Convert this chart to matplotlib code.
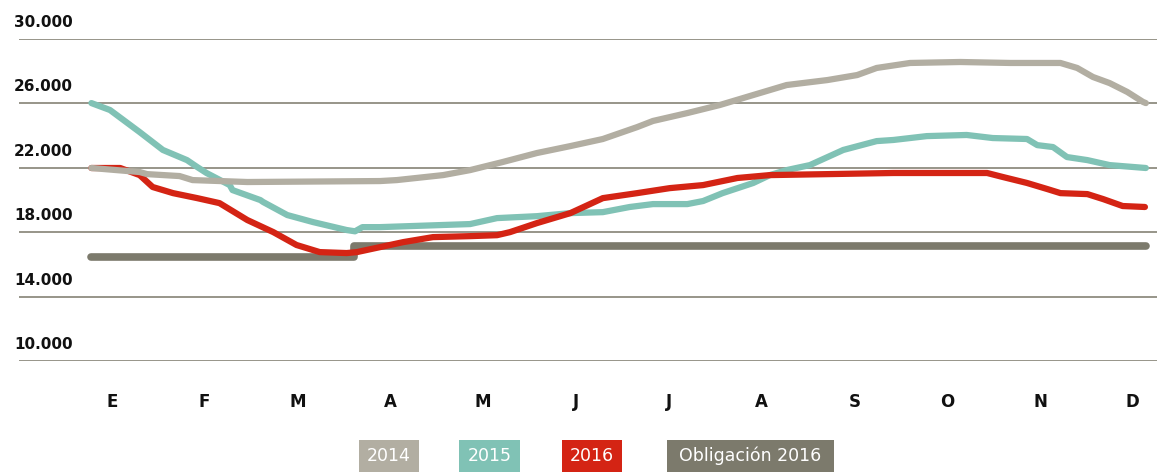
import matplotlib
matplotlib.use('Agg')
import matplotlib.pyplot as plt
from matplotlib.patches import Rectangle

# x in months (0 = enero, 11 = diciembre), y in values
x_2014 = [-0.22, 0.30, 0.38, 0.73, 0.87, 1.46, 2.89, 3.07, 3.57, 3.86, 4.21, 4.58, 4.94, 5.29,
          5.66, 5.83, 6.20, 6.55, 7.09, 7.27, 7.71, 8.03, 8.24, 8.60, 9.14, 9.68, 10.22, 10.40,
          10.57, 10.75, 10.94, 11.11, 11.14]
y_2014 = [21980, 21730, 21600, 21480, 21230, 21110, 21170, 21230, 21540, 21850, 22350, 22910, 23340, 23780,
          24520, 24900, 25390, 25890, 26820, 27130, 27440, 27750, 28190, 28500, 28560, 28500, 28500, 28190,
          27630, 27250, 26700, 26080, 26010]

x_2015 = [-0.22, -0.02, 0.30, 0.55, 0.81, 0.92, 1.02, 1.27, 1.30, 1.60, 1.63, 1.89, 2.17, 2.53, 2.62,
          2.70, 2.89, 3.86, 4.15, 4.58, 4.94, 5.29, 5.58, 5.83, 6.20, 6.37, 6.58, 6.91, 7.09, 7.27,
          7.52, 7.88, 8.24, 8.42, 8.78, 9.21, 9.49, 9.86, 9.97, 10.14, 10.29, 10.51, 10.75, 11.14]
y_2015 = [26010, 25580, 24210, 23100, 22470, 22040, 21670, 20920, 20610, 19990, 19870, 19060, 18620, 18130, 18050,
          18310, 18310, 18500, 18870, 18990, 19180, 19240, 19560, 19740, 19740, 19930, 20420, 21050, 21540, 21850,
          22160, 23100, 23650, 23720, 23960, 24030, 23840, 23780, 23400, 23280, 22660, 22470, 22160, 21980]

x_2016 = [-0.22, 0.09, 0.30, 0.44, 0.66, 0.92, 1.16, 1.46, 1.74, 1.99, 2.24, 2.53, 2.64, 2.89, 3.14,
          3.46, 3.86, 4.15, 4.29, 4.58, 4.94, 5.29, 5.66, 6.01, 6.37, 6.74, 7.09, 7.71, 8.42, 9.14,
          9.43, 9.60, 9.86, 10.08, 10.22, 10.51, 10.68, 10.89, 11.13]
y_2016 = [21980, 21980, 21540, 20800, 20420, 20110, 19800, 18750, 18000, 17200, 16760, 16700, 16760, 17070, 17380,
          17690, 17750, 17810, 18000, 18560, 19180, 20110, 20420, 20730, 20920, 21360, 21540, 21600, 21670, 21670,
          21670, 21420, 21050, 20670, 20420, 20360, 20050, 19620, 19560]

x_oblig = [-0.22, 2.61, 11.14]
y_oblig = [16450, 17130, 17130]

months = ['E', 'F', 'M', 'A', 'M', 'J', 'J', 'A', 'S', 'O', 'N', 'D']
y_ticks = [10000, 14000, 18000, 22000, 26000, 30000]
y_tick_labels = ['10.000', '14.000', '18.000', '22.000', '26.000', '30.000']
legend_labels = ['2014', '2015', '2016', 'Obligación 2016']

c_2014 = '#b2aea2'
c_2015 = '#80c2b5'
c_2016 = '#d42414'
c_oblig = '#7c7a6c'
grid_col = '#8f8c80'

W, H = 1161, 472
fig = plt.figure(figsize=(W / 100, H / 100), dpi=100)
ax = fig.add_axes([19 / W, (H - 361) / H, (1157 - 19) / W, (361 - 38.8) / H])

ax.set_xlim(-1.0, 11.26)
ax.set_ylim(10000, 30000)
for v in y_ticks:
    ax.axhline(v, color=grid_col, lw=1.3, zorder=1)

kw = dict(solid_capstyle='round', solid_joinstyle='round', clip_on=False)
ax.plot(x_oblig, y_oblig, color=c_oblig, lw=5.5, drawstyle='steps-post', zorder=2, **kw)
ax.plot(x_2015, y_2015, color=c_2015, lw=4.5, zorder=3, **kw)
ax.plot(x_2016, y_2016, color=c_2016, lw=4.5, zorder=4, **kw)
ax.plot(x_2014, y_2014, color=c_2014, lw=4.5, zorder=5, **kw)

for s in ax.spines.values():
    s.set_visible(False)
ax.set_yticks([])
ax.set_xticks(range(12))
ax.set_xticklabels(months, fontsize=12, fontweight='bold',
                   family=['Liberation Sans Narrow', 'DejaVu Sans'], color='#111111')
ax.tick_params(axis='x', length=0, pad=23)

for v, lab in zip(y_ticks, y_tick_labels):
    ax.annotate(lab, xy=(0, v), xycoords=ax.get_yaxis_transform(),
                xytext=(-5, 9), textcoords='offset pixels', ha='left', va='bottom',
                fontsize=11, color='#111111', fontweight='bold')

# legend boxes
boxes = [(359, 419, c_2014), (459, 520, c_2015), (562, 622, c_2016), (667, 834, c_oblig)]
for (x0, x1, col), lab in zip(boxes, legend_labels):
    fig.add_artist(Rectangle((x0 / W, 0), (x1 - x0) / W, 32 / H, transform=fig.transFigure,
                             facecolor=col, edgecolor='none'))
    fig.text((x0 + x1) / 2 / W, 16 / H, lab, ha='center', va='center', color='white', fontsize=12.5)

fig.savefig('out.png', dpi=100)
